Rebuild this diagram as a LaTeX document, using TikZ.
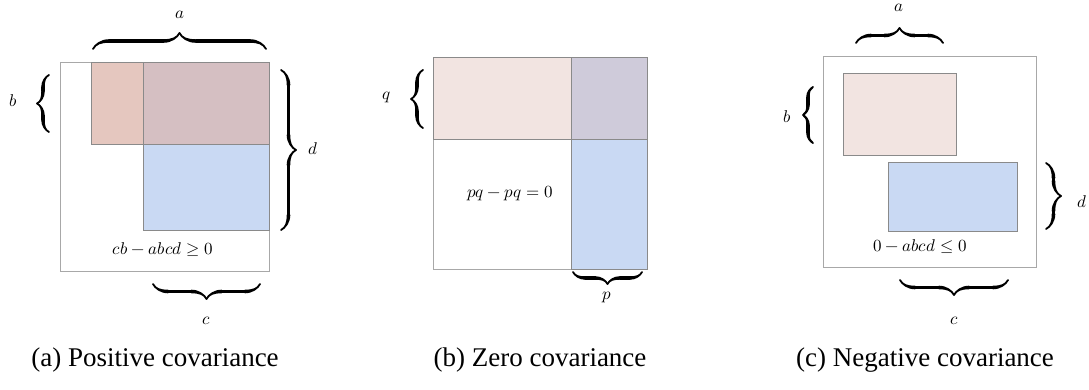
\documentclass[tikz,border=0pt]{standalone}
\usepackage{fontspec}
\setmainfont{Liberation Serif}
\usepackage{unicode-math}
\setmathfont{Latin Modern Math}
\usetikzlibrary{decorations.pathreplacing,calligraphy}
\definecolor{redA}{HTML}{E5C7BF}
\definecolor{ovA}{HTML}{D5BFC2}
\definecolor{redB}{HTML}{F2E4E1}
\definecolor{ovB}{HTML}{CFCBDA}
\definecolor{blueC}{HTML}{C9D9F3}
\definecolor{edgeG}{HTML}{8A8A8A}
\definecolor{outerG}{HTML}{A8A8A8}
\tikzset{
  outerbox/.style={draw=outerG, line width=0.8pt},
  areabox/.style={draw=edgeG, line width=0.9pt},
  curly/.style={decorate, decoration={calligraphic brace, amplitude=#1}, line width=3.6pt, pen colour=black},
  curly/.default=14pt,
  mlabel/.style={font=\fontsize{17}{20}\selectfont, inner sep=0pt},
  caption/.style={font=\fontsize{27}{30}\selectfont, inner sep=0pt}
}
\begin{document}
\begin{tikzpicture}[x=1pt,y=-1pt]
\useasboundingbox (0,0) rectangle (1089,390);

% ---------- panel (a)
\draw[outerbox] (60,62) rectangle (269,271);
\fill[redA] (91,62) rectangle (143,144);
\fill[blueC] (143,144) rectangle (269,230);
\fill[ovA] (143,62) rectangle (269,144);
\draw[areabox] (91,62) rectangle (269,144);
\draw[areabox] (143,62) rectangle (269,230);
\node[mlabel] (ta) at (163,250) {$cb-abcd\geq 0$};
\coordinate (a1) at (93,49); \coordinate (a2) at (266,49);
\draw[curly=16pt] (a1) -- (a2);
\node[mlabel] (la) at (180,15) {$a$};
\coordinate (b1) at (49,132); \coordinate (b2) at (49,75);
\draw[curly=12pt] (b1) -- (b2);
\node[mlabel] (lb) at (13,101) {$b$};
\coordinate (d1) at (281,70); \coordinate (d2) at (281,230);
\draw[curly=15pt] (d1) -- (d2);
\node[mlabel] (ld) at (313,149) {$d$};
\coordinate (c1) at (260,284); \coordinate (c2) at (153,284);
\draw[curly=15pt] (c1) -- (c2);
\node[mlabel] (lc) at (206,321) {$c$};
\node[caption] (capa) at (155,360) {(a) Positive covariance};

% ---------- panel (b)
\draw[outerbox] (433,57) rectangle (647,269);
\fill[redB] (433,57) rectangle (571,139);
\fill[blueC] (571,139) rectangle (647,269);
\fill[ovB] (571,57) rectangle (647,139);
\draw[areabox] (433,57) rectangle (647,139);
\draw[areabox] (571,57) rectangle (647,269);
\node[mlabel] (tb) at (510,193) {$pq-pq=0$};
\coordinate (q1) at (423,128); \coordinate (q2) at (423,70);
\draw[curly=12pt] (q1) -- (q2);
\node[mlabel] (lq) at (387,97) {$q$};
\coordinate (p1) at (642,272); \coordinate (p2) at (573,272);
\draw[curly=12pt] (p1) -- (p2);
\node[mlabel] (lp) at (607,297) {$p$};
\node[caption] (capb) at (540,360) {(b) Zero covariance};

% ---------- panel (c)
\draw[outerbox] (823,56) rectangle (1036,267);
\fill[redB] (843,73) rectangle (956,155);
\draw[areabox] (843,73) rectangle (956,155);
\fill[blueC] (888,162) rectangle (1017,231);
\draw[areabox] (888,162) rectangle (1017,231);
\node[mlabel] (tc) at (920,247) {$0-abcd\leq 0$};
\coordinate (e1) at (856,43); \coordinate (e2) at (943,43);
\draw[curly=15pt] (e1) -- (e2);
\node[mlabel] (lca) at (899,8) {$a$};
\coordinate (f1) at (813,143); \coordinate (f2) at (813,87);
\draw[curly=10pt] (f1) -- (f2);
\node[mlabel] (lcb) at (787,117) {$b$};
\coordinate (g1) at (1046,163); \coordinate (g2) at (1046,229);
\draw[curly=15pt] (g1) -- (g2);
\node[mlabel] (lcd) at (1082,202) {$d$};
\coordinate (h1) at (1008,280); \coordinate (h2) at (900,280);
\draw[curly=15pt] (h1) -- (h2);
\node[mlabel] (lcc) at (954,321) {$c$};
\node[caption] (capc) at (925,360) {(c) Negative covariance};
\end{tikzpicture}
\end{document}
